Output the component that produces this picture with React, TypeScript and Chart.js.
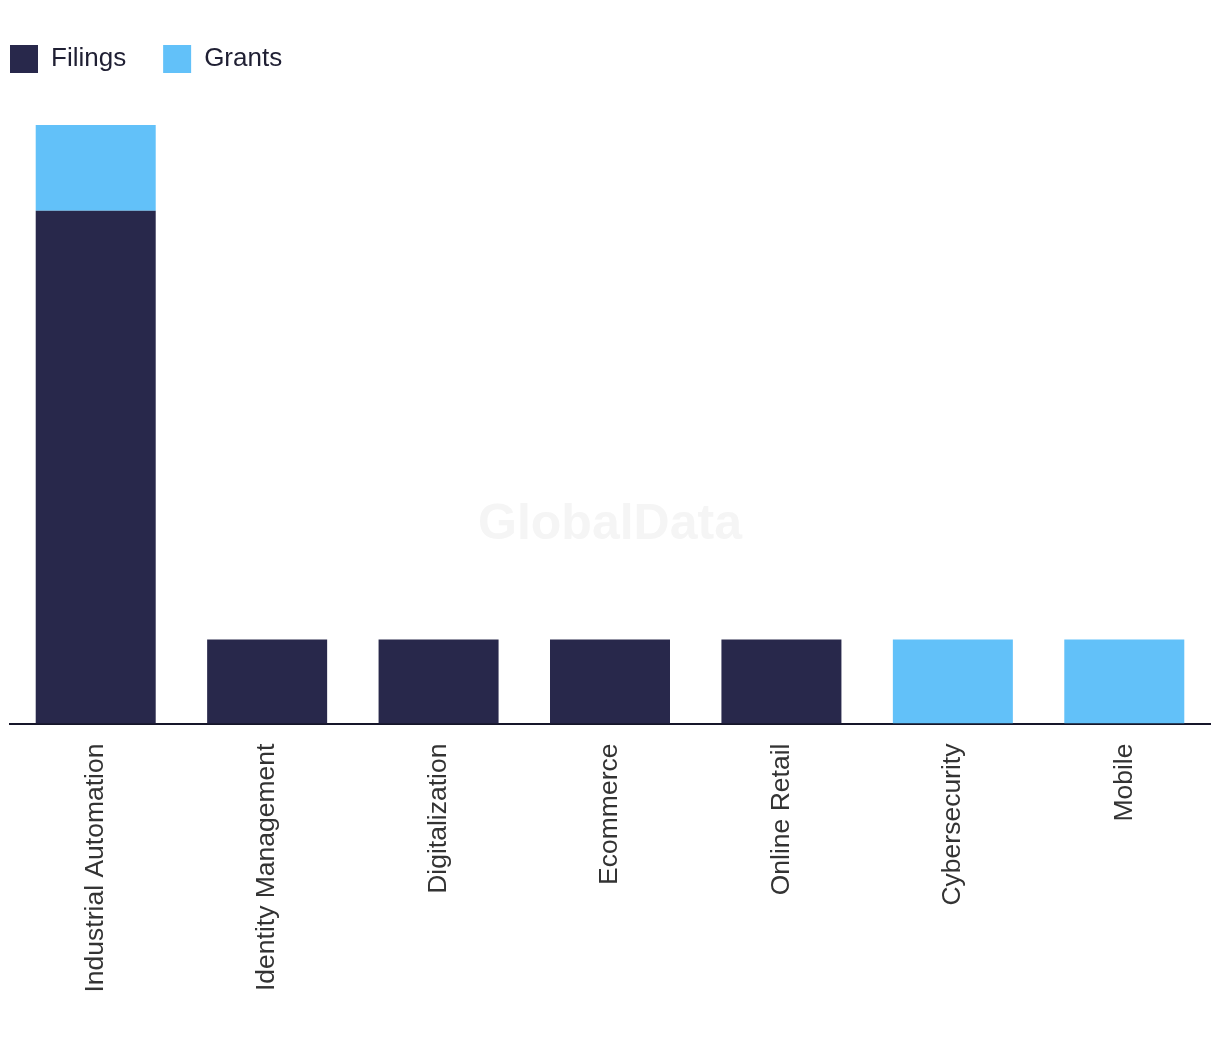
import React, { useEffect, useRef } from "react";
import { Chart, registerables } from "chart.js";

Chart.register(...registerables);

const categories = [
  "Industrial Automation",
  "Identity Management",
  "Digitalization",
  "Ecommerce",
  "Online Retail",
  "Cybersecurity",
  "Mobile",
];
const filings = [6.1, 1, 1, 1, 1, 0, 0];
const grants = [1.02, 0, 0, 0, 0, 1, 1];

const FONT = "'Liberation Sans', Arial, sans-serif";

const watermark = {
  id: "watermark",
  beforeDraw(chart: any) {
    const { ctx, width, height } = chart;
    ctx.save();
    ctx.font = `bold 50px ${FONT}`;
    ctx.fillStyle = "#f5f5f5";
    ctx.textAlign = "center";
    ctx.textBaseline = "middle";
    ctx.fillText("GlobalData", width / 2, height / 2 + 4);
    ctx.restore();
  },
};

export default function App() {
  const ref = useRef<HTMLCanvasElement>(null);
  useEffect(() => {
    if (!ref.current) return;
    const chart = new Chart(ref.current, {
      type: "bar",
      data: {
        labels: categories,
        datasets: [
          { label: "Filings", data: filings, backgroundColor: "#28284b", borderWidth: 0 },
          { label: "Grants", data: grants, backgroundColor: "#62c1f9", borderWidth: 0 },
        ],
      },
      options: {
        animation: false,
        responsive: true,
        maintainAspectRatio: false,
        layout: { padding: { left: -35, right: 2, top: 0, bottom: 21.5 } },
        datasets: { bar: { barPercentage: 0.7, categoryPercentage: 1.0 } },
        plugins: {
          legend: {
            display: true,
            position: "top",
            align: "start",
            labels: {
              boxWidth: 28,
              boxHeight: 28,
              padding: 37,
              color: "#1f1f33",
              font: { family: FONT, size: 26 },
            },
          },
          tooltip: { enabled: false },
        },
        scales: {
          x: {
            stacked: true,
            grid: { display: false, drawTicks: false },
            border: { display: true, color: "#16162a", width: 2 },
            ticks: {
              maxRotation: 90,
              minRotation: 90,
              padding: 20,
              color: "#333333",
              autoSkip: false,
              font: { family: FONT, size: 26.5 },
            },
          },
          y: {
            stacked: true,
            min: 0,
            max: 7.62,
            grid: { display: false, drawTicks: false },
            border: { display: false },
            ticks: { display: false },
            afterFit: (scale: any) => {
              scale.width = 37;
            },
          },
        },
      },
      plugins: [watermark],
    });
    return () => chart.destroy();
  }, []);
  return (
    <div style={{ position: "relative", width: "1204px", height: "1026px" }}>
      <canvas ref={ref} />
    </div>
  );
}
